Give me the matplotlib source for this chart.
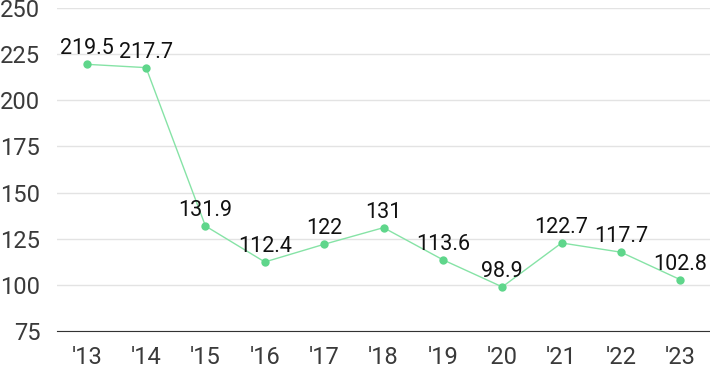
import matplotlib
matplotlib.use("Agg")
import matplotlib.pyplot as plt

years = ["'13", "'14", "'15", "'16", "'17", "'18", "'19", "'20", "'21", "'22", "'23"]
values = [219.5, 217.7, 131.9, 112.4, 122, 131, 113.6, 98.9, 122.7, 117.7, 102.8]
labels = ["219.5", "217.7", "131.9", "112.4", "122", "131", "113.6", "98.9", "122.7", "117.7", "102.8"]
yticks = [75, 100, 125, 150, 175, 200, 225, 250]

plt.rcParams['font.family'] = ['Roboto', 'DejaVu Sans']

fig = plt.figure(figsize=(7.1, 3.71), dpi=100)
ax = fig.add_axes([0.0803, 0.1078, 0.9197, 0.8706])

x = list(range(len(years)))
ax.plot(x, values, color="#86e3a6", lw=1, zorder=3)
ax.scatter(x, values, s=36, color="#5fd68b", zorder=4, linewidths=0)

for xi, v, t in zip(x, values, labels):
    ax.annotate(t, (xi, v), xytext=(0, 3.5), textcoords="offset points",
                ha="center", va="bottom", fontsize=15.5, color="#111111")

ax.set_xlim(-0.5, len(years) - 0.5)
ax.set_ylim(75, 250)
ax.set_yticks(yticks)
ax.set_xticks(x)
ax.set_xticklabels(years)
ax.grid(axis="y", color="#e3e3e3", lw=1)
ax.set_axisbelow(True)
for s in ["top", "right", "left"]:
    ax.spines[s].set_visible(False)
ax.spines["bottom"].set_color("#333333")
ax.tick_params(axis="both", length=0, labelsize=17, colors="#3a3a3a")
ax.tick_params(axis="y", pad=12)
ax.tick_params(axis="x", pad=11)

fig.savefig("out.png", dpi=100)
